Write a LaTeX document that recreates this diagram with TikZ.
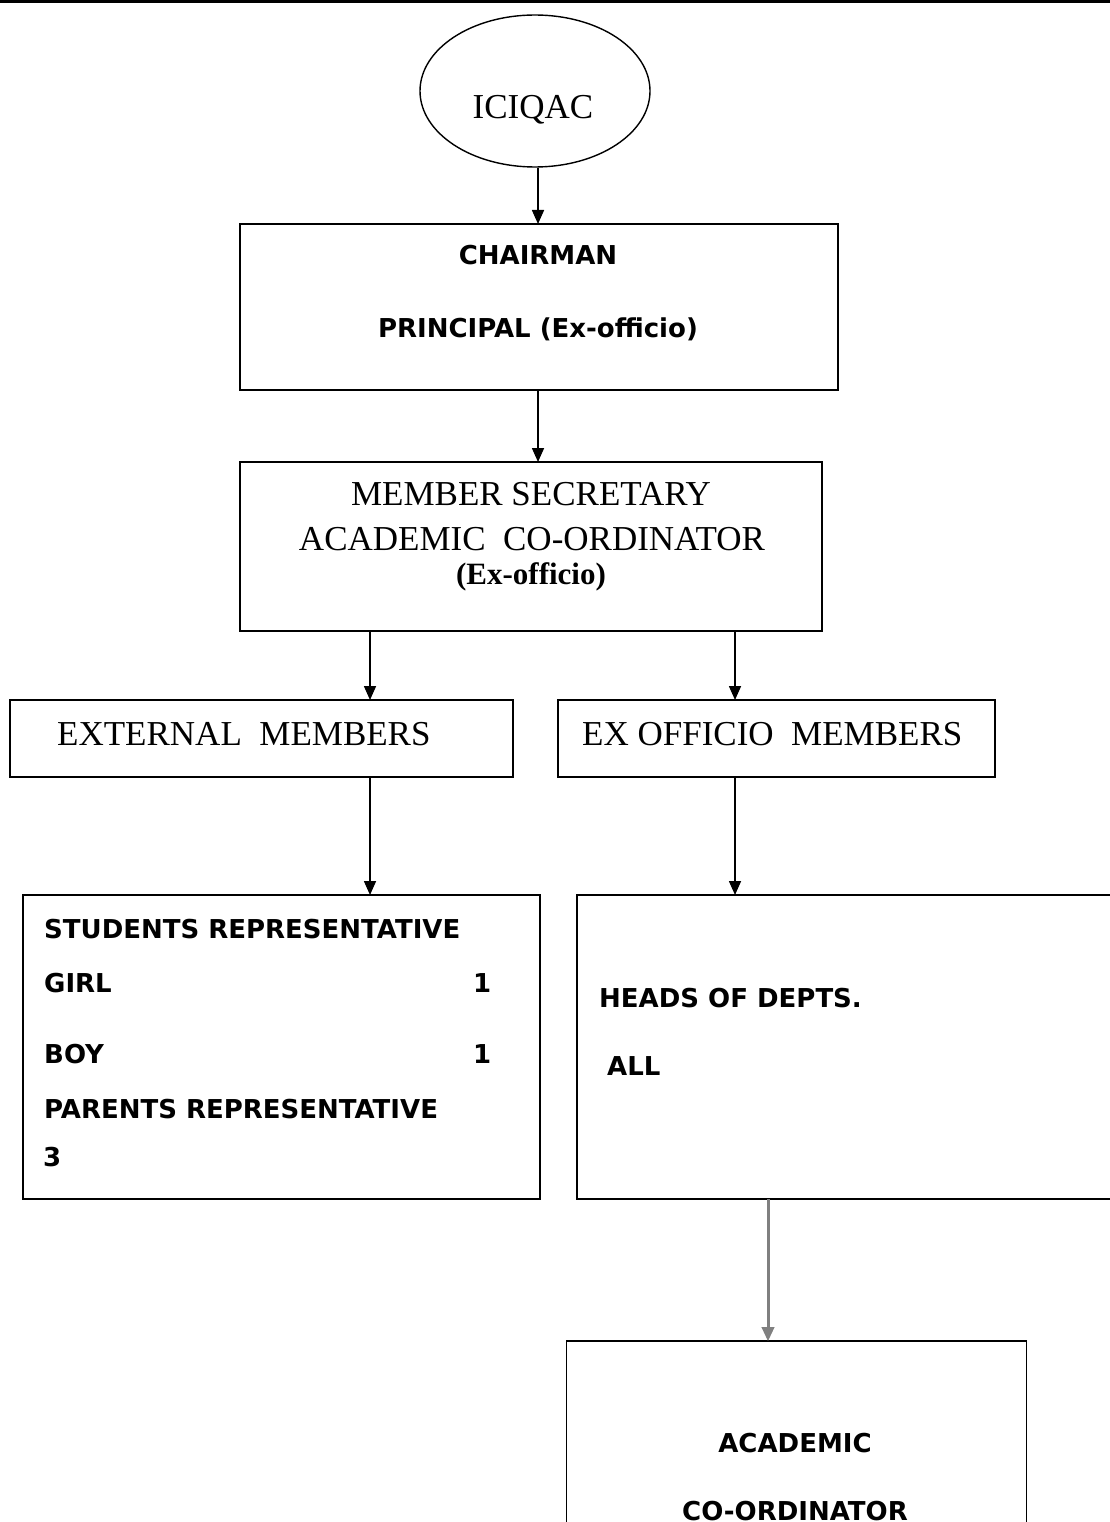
\documentclass[tikz,border=0pt]{standalone}
\usepackage{fontspec}
\setmainfont{Liberation Serif}
\newfontfamily\vsans{DejaVu Sans}
\usetikzlibrary{arrows.meta,shapes.geometric}
\tikzset{
  box/.style={draw=black, line width=1.5pt, rectangle, inner sep=0pt, outer sep=0pt},
  arr/.style={line width=1.6pt, -{Triangle[length=14pt,width=12pt]}},
  serif/.style={inner sep=0pt, font=\fontsize{35}{42}\selectfont},
  sansb/.style={inner sep=0pt, font=\vsans\bfseries\fontsize{26}{31}\selectfont},
}
\begin{document}
\begin{tikzpicture}[x=1pt,y=-1pt]
\useasboundingbox (0,0) rectangle (1110,1522);
\clip (0,0) rectangle (1110,1522);
\fill[white] (0,0) rectangle (1110,1522);
% top rule
\draw[line width=3pt] (0,1.5) -- (1110,1.5);

% nodes
\node[ellipse, draw, line width=1.4pt, minimum width=230pt, minimum height=152pt, inner sep=0pt] (ell) at (535,91) {};
\node[serif, anchor=base] (tell) at (533,119) {ICIQAC};

\node[box, minimum width=598pt, minimum height=166pt] (chair) at (539,307) {};
\node[sansb, anchor=base] (tch1) at (538,265) {CHAIRMAN};
\node[sansb, anchor=base] (tch2) at (538,337) {PRINCIPAL (Ex-officio)};

\node[box, minimum width=582pt, minimum height=169pt] (mem) at (531,546.5) {};
\node[serif, anchor=base] (tm1) at (531,505) {MEMBER SECRETARY};
\node[serif, anchor=base] (tm2) at (532,550) {ACADEMIC\ \ CO-ORDINATOR};
\node[serif, anchor=base, font=\bfseries\fontsize{31}{36}\selectfont] (tm3) at (531,584) {(Ex-officio)};

\node[box, minimum width=503pt, minimum height=77pt] (ext) at (261.5,738.5) {};
\node[serif, anchor=base west] (text) at (57,745) {EXTERNAL\ \ MEMBERS};

\node[box, minimum width=437pt, minimum height=77pt] (exo) at (776.5,738.5) {};
\node[serif, anchor=base west] (texo) at (582,745) {EX OFFICIO\ \ MEMBERS};

\node[box, minimum width=517pt, minimum height=304pt] (stu) at (281.5,1047) {};
\node[sansb, anchor=base west] (s1) at (44,938) {STUDENTS REPRESENTATIVE};
\node[sansb, anchor=base west] (s2) at (44,992) {GIRL};
\node[sansb, anchor=base west] (s2n) at (473,992) {1};
\node[sansb, anchor=base west] (s3) at (44,1063) {BOY};
\node[sansb, anchor=base west] (s3n) at (473,1063) {1};
\node[sansb, anchor=base west] (s4) at (44,1118) {PARENTS REPRESENTATIVE};
\node[sansb, anchor=base west] (s5) at (43,1166) {3};

\node[box, minimum width=553pt, minimum height=304pt] (heads) at (853.5,1047) {};
\node[sansb, anchor=base west] (h1) at (599,1007) {HEADS OF DEPTS.};
\node[sansb, anchor=base west] (h2) at (607,1075) {ALL};

\node[box, minimum width=460pt, minimum height=240pt] (acad) at (796.5,1461) {};
\node[sansb, anchor=base] (a1) at (795,1452) {ACADEMIC};
\node[sansb, anchor=base] (a2) at (795,1520) {CO-ORDINATOR};

% x positions of connectors
\coordinate (xa) at (538,0);
\coordinate (xl) at (370,0);
\coordinate (xr) at (735,0);
\coordinate (xh) at (768,0);

\draw[arr] (ell.south -| xa) -- (chair.north -| xa);
\draw[arr] (chair.south -| xa) -- (mem.north -| xa);
\draw[arr] (mem.south -| xl) -- (ext.north -| xl);
\draw[arr] (mem.south -| xr) -- (exo.north -| xr);
\draw[arr] (ext.south -| xl) -- (stu.north -| xl);
\draw[arr] (exo.south -| xr) -- (heads.north -| xr);
\draw[line width=3pt, draw=black!50] (heads.south -| xh) -- ([yshift=12pt]acad.north -| xh);
\draw[line width=1pt, -{Triangle[length=14pt,width=13pt]}, draw=black!50, fill=black] ([yshift=14pt]acad.north -| xh) -- (acad.north -| xh);
\end{tikzpicture}
\end{document}
